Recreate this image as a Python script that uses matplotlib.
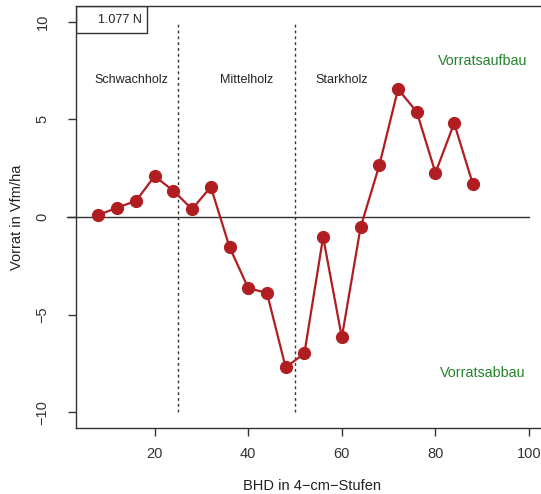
import matplotlib
matplotlib.use("Agg")
import matplotlib.pyplot as plt
from matplotlib.patches import Rectangle

plt.rcParams['font.family'] = ['Liberation Sans', 'DejaVu Sans']

# BHD classes (4-cm steps) and stock change
bhd = [8, 12, 16, 20, 24, 28, 32, 36, 40, 44, 48, 52, 56, 60, 64, 68, 72, 76, 80, 84, 88]
vorrat = [0.1, 0.48, 0.82, 2.09, 1.34, 0.4, 1.54, -1.54, -3.64, -3.89, -7.7, -6.98,
          -1.03, -6.16, -0.53, 2.64, 6.54, 5.39, 2.26, 4.8, 1.68]

grenzen = [25, 50]
klassen = ["Schwachholz", "Mittelholz", "Starkholz"]
klassen_x = [15.1, 39.7, 60]
legend_txt = "1.077 N"

fig = plt.figure(figsize=(5.41, 4.94), dpi=100)
ax = fig.add_axes([0.1405, 0.1336, 0.872, 0.8543])
ax.set_xlim(3.2, 104)
ax.set_ylim(-10.8, 10.8)

# zero line (drawn a bit past the left axis like in the original)
ax.plot([1.3, 100], [0, 0], color='#333333', lw=1, clip_on=False, zorder=1)

for g in grenzen:
    ax.plot([g, g], [-10, 10], color='#333333', lw=1, linestyle=(0, (2, 2.2)), zorder=1)

ax.plot(bhd, vorrat, color='#b01e22', lw=1.6, marker='o', markersize=8.5,
        markerfacecolor='#b01e22', markeredgecolor='#b01e22', zorder=3)

for t, xx in zip(klassen, klassen_x):
    ax.text(xx, 7, t, ha='center', va='center', fontsize=9, color='#222222')

ax.text(90, 8, "Vorratsaufbau", ha='center', va='center', fontsize=10.3, color='#23822a')
ax.text(90, -8, "Vorratsabbau", ha='center', va='center', fontsize=10.3, color='#23822a')

# legend-like box in the top-left corner
ax.add_patch(Rectangle((3.2, 9.43), 15.1, 1.37, fill=False, edgecolor='#333333', lw=1, zorder=4))
ax.text(12.5, 10.1, legend_txt, ha='center', va='center', fontsize=9, color='#222222')

ax.set_xticks([20, 40, 60, 80, 100])
ax.set_yticks([-10, -5, 0, 5, 10])
ax.set_yticklabels(['−10', '−5', '0', '5', '10'], rotation=90, va='center')
ax.tick_params(direction='out', length=6, width=1, labelsize=10.5, colors='#333333')
ax.tick_params(axis='x', pad=7.5)
ax.tick_params(axis='y', pad=13)
for s in ax.spines.values():
    s.set_color('#333333')
    s.set_linewidth(1)

ax.set_xlabel("BHD in 4\u2212cm\u2212Stufen", fontsize=10.5, color='#222222', labelpad=13)
ax.set_ylabel("Vorrat in Vfm/ha", fontsize=10.5, color='#222222', labelpad=8.5)

fig.savefig("out.png", dpi=100)
